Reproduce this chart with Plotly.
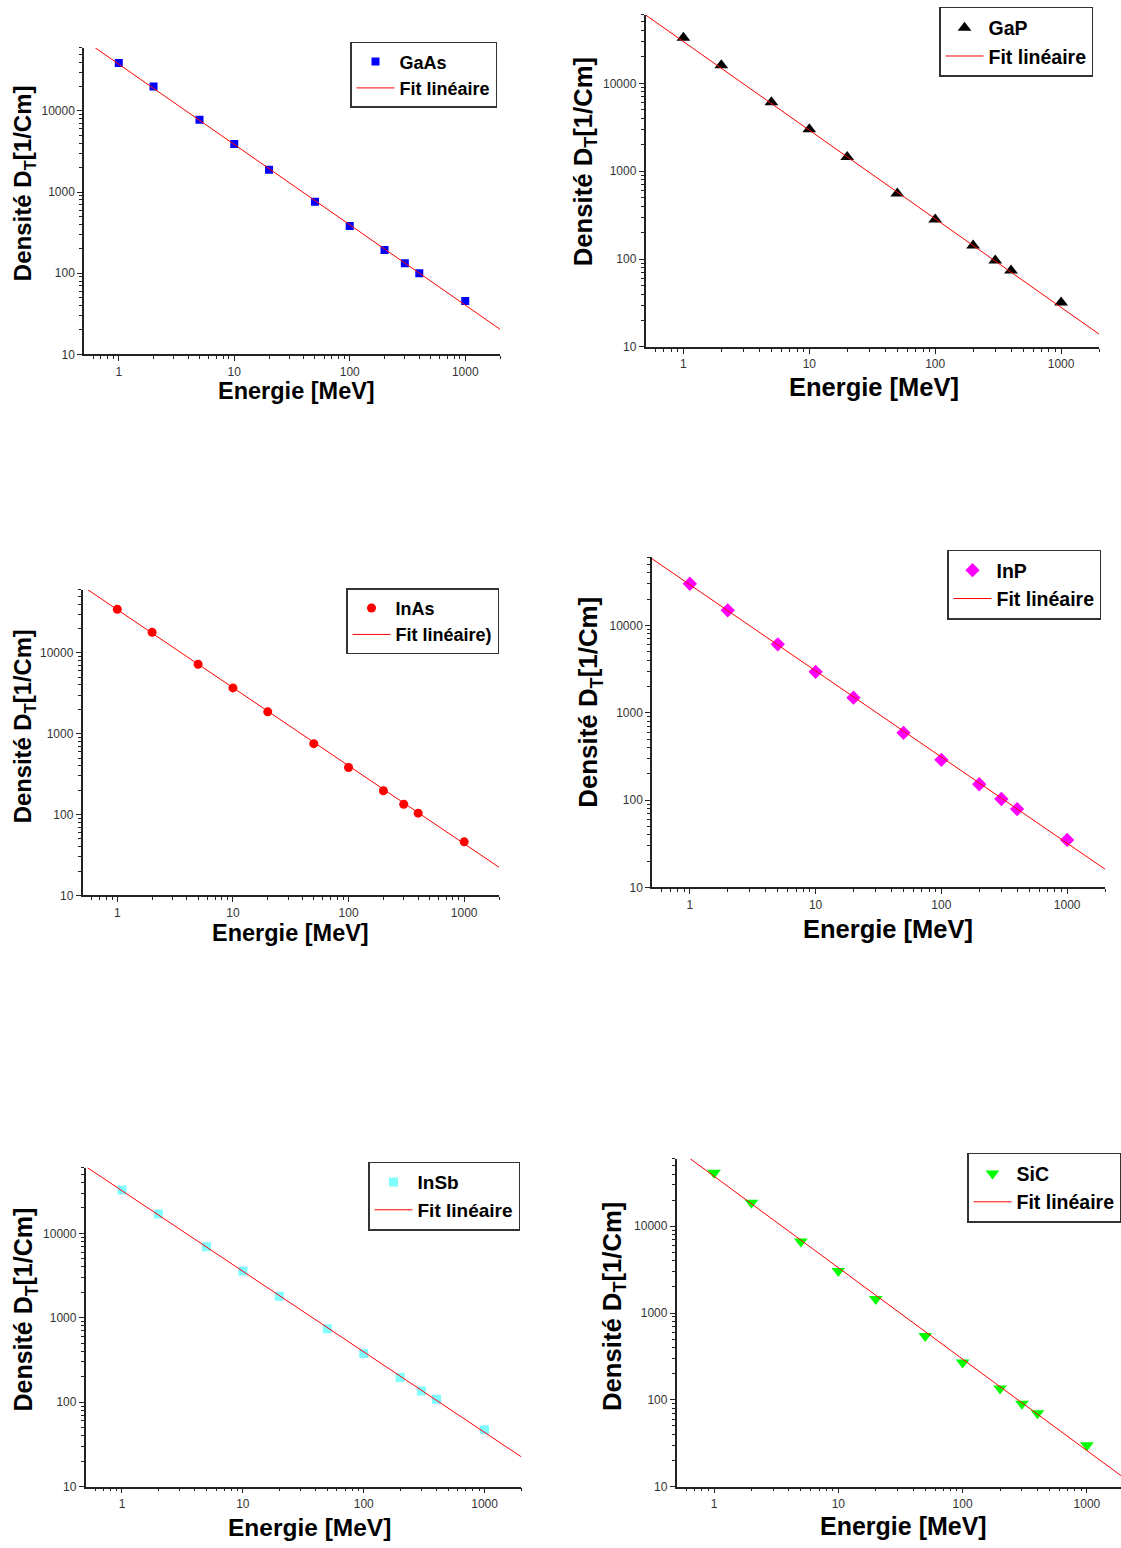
import math
import plotly.graph_objects as go

# ---------------- data ----------------
energies = [1, 2, 5, 10, 20, 50, 100, 200, 300, 400, 1000]

gaas = [39000, 20000, 7800, 3900, 1890, 760, 382, 194, 133, 100, 45.5]
gap = [33000, 16000, 6100, 3000, 1450, 558, 281, 143, 96, 74, 32]
inas = [34400, 17900, 7200, 3680, 1860, 752, 381, 197, 134, 104, 46]
inp = [30000, 14900, 6080, 2940, 1490, 590, 289, 152, 103, 79, 35]
insb = [32700, 17000, 6950, 3590, 1800, 740, 376, 196, 136, 108, 47]
sic = [41400, 18700, 6670, 3060, 1450, 544, 269, 135, 90, 70, 30]

# fitted straight lines (log-log), endpoints
fit_gaas_x, fit_gaas_y = [0.625, 2000], [60000, 20.4]
fit_gap_x, fit_gap_y = [0.5, 2000], [60000, 14.0]
fit_inas_x, fit_inas_y = [0.557, 2000], [60000, 22.3]
fit_inp_x, fit_inp_y = [0.5, 2000], [58000, 16.2]
fit_insb_x, fit_insb_y = [0.518, 2000], [60000, 22.6]
fit_sic_x, fit_sic_y = [0.644, 2000], [60000, 12.5]

names = ["GaAs", "GaP", "InAs", "InP", "InSb", "SiC"]
fit_names = ["Fit linéaire", "Fit linéaire", "Fit linéaire)", "Fit linéaire",
             "Fit linéaire", "Fit linéaire"]
x_title = "<b>Energie [MeV]</b>"
y_title = "<b>Densité D<sub>T</sub>[1/Cm]</b>"

x_major = [1, 10, 100, 1000]
x_major_text = ["1", "10", "100", "1000"]
y_major = [10, 100, 1000, 10000]
y_major_text = ["10", "100", "1000", "10000"]
x_minor = [0.6, 0.7, 0.8, 0.9] + [m * d for d in (1, 10, 100) for m in range(2, 10)] + [2000]
y_minor = [m * d for d in (10, 100, 1000) for m in range(2, 10)] + [20000, 30000, 40000, 50000, 60000]

# ---------------- styling / layout ----------------
W, H = 1121, 1548
FONT = "Liberation Sans, Arial, sans-serif"

# panel boxes in pixels: x0, x1, y_top, y_bottom
panels = [
    (84.0, 500.0, 48.0, 356.0),
    (645.5, 1099.0, 15.0, 348.5),
    (82.5, 499.0, 592.5, 899.5),
    (652.0, 1105.0, 560.0, 891.5),
    (85.6, 521.0, 1173.0, 1493.3),
    (676.6, 1121.0, 1164.0, 1493.3),
]
xmax_log = [math.log10(2000)] * 5 + [3.274]
series = [gaas, gap, inas, inp, insb, sic]
fits = [(fit_gaas_x, fit_gaas_y), (fit_gap_x, fit_gap_y), (fit_inas_x, fit_inas_y),
        (fit_inp_x, fit_inp_y), (fit_insb_x, fit_insb_y), (fit_sic_x, fit_sic_y)]
colors = ["#0000ff", "#000000", "#ff0000", "#ff00ff", "#80ffff", "#00ff00"]
symbols = ["square", "triangle-up", "circle", "diamond", "square", "triangle-down"]
msizes = [8, 12, 9, 11, 9, 12]
legend_pos = [(350, 42, 18), (939, 7, 19.5), (346, 591, 18), (947, 552, 19.5),
              (368, 1167, 19), (967, 1158, 19.5)]
# title placement (centre px) and sizes
xtitle_pos = [(296.5, 393), (873.5, 389), (290.5, 937), (888, 933), (309.5, 1534), (903, 1533)]
xtitle_size = [23.5, 25.5, 23.5, 25.5, 24.5, 25]
ytitle_pos = [(24, 184), (585, 163), (24, 729.5), (590, 706), (25.5, 1316), (614, 1313)]
ytitle_size = [24, 25.7, 23.8, 25.9, 25, 25.7]

fig = go.Figure()
layout = dict(
    width=W, height=H,
    margin=dict(l=0, r=0, t=0, b=0),
    paper_bgcolor="white", plot_bgcolor="white",
    font=dict(family=FONT, color="#000"),
    showlegend=True,
)
annotations = []

for i in range(6):
    sfx = "" if i == 0 else str(i + 1)
    lg = "legend" if i == 0 else "legend" + str(i + 1)
    fig.add_trace(go.Scatter(
        x=energies, y=series[i], mode="markers", name=names[i],
        marker=dict(symbol=symbols[i], size=msizes[i], color=colors[i], line=dict(width=0)),
        xaxis="x" + sfx, yaxis="y" + sfx, legend=lg,
    ))
    fig.add_trace(go.Scatter(
        x=fits[i][0], y=fits[i][1], mode="lines", name=fit_names[i],
        line=dict(color="#ff0000", width=1),
        xaxis="x" + sfx, yaxis="y" + sfx, legend=lg,
    ))
    x0, x1, yt, yb = panels[i]
    axcommon = dict(
        type="log", showgrid=False, zeroline=False, showline=True,
        linecolor="#222", linewidth=1.5, ticks="outside", ticklen=5, tickwidth=1.2,
        tickcolor="#222", tickfont=dict(size=12, color="#333", family=FONT),
        mirror=False,
    )
    layout["xaxis" + sfx] = dict(
        axcommon,
        domain=[x0 / W, x1 / W],
        range=[math.log10(0.5), xmax_log[i]],
        anchor="y" + sfx,
        tickmode="array", tickvals=x_major, ticktext=x_major_text,
        minor=dict(tickmode="array", tickvals=x_minor, ticks="outside", ticklen=3,
                   tickcolor="#222", tickwidth=1),
    )
    layout["yaxis" + sfx] = dict(
        axcommon,
        domain=[1 - yb / H, 1 - yt / H],
        range=[1, math.log10(60000)],
        anchor="x" + sfx,
        tickmode="array", tickvals=y_major, ticktext=y_major_text,
        minor=dict(tickmode="array", tickvals=y_minor, ticks="outside", ticklen=3,
                   tickcolor="#222", tickwidth=1),
    )
    tx, ty = xtitle_pos[i]
    annotations.append(dict(
        text=x_title, xref="paper", yref="paper", x=tx / W, y=1 - ty / H,
        xanchor="center", yanchor="middle", showarrow=False,
        font=dict(size=xtitle_size[i], color="#000", family=FONT),
    ))
    tx, ty = ytitle_pos[i]
    annotations.append(dict(
        text=y_title, xref="paper", yref="paper", x=tx / W, y=1 - ty / H,
        xanchor="center", yanchor="middle", showarrow=False, textangle=-90,
        font=dict(size=ytitle_size[i], color="#000", family=FONT),
    ))
    lx, ly, lfs = legend_pos[i]
    layout[lg] = dict(
        x=lx / W, y=1 - ly / H, xanchor="left", yanchor="top",
        bgcolor="white", bordercolor="#333", borderwidth=1.5,
        font=dict(size=lfs, color="#000", family=FONT, weight="bold"),
        itemwidth=38, tracegroupgap=0,
    )

layout["annotations"] = annotations
fig.update_layout(**layout)
fig.write_html("out.html")
